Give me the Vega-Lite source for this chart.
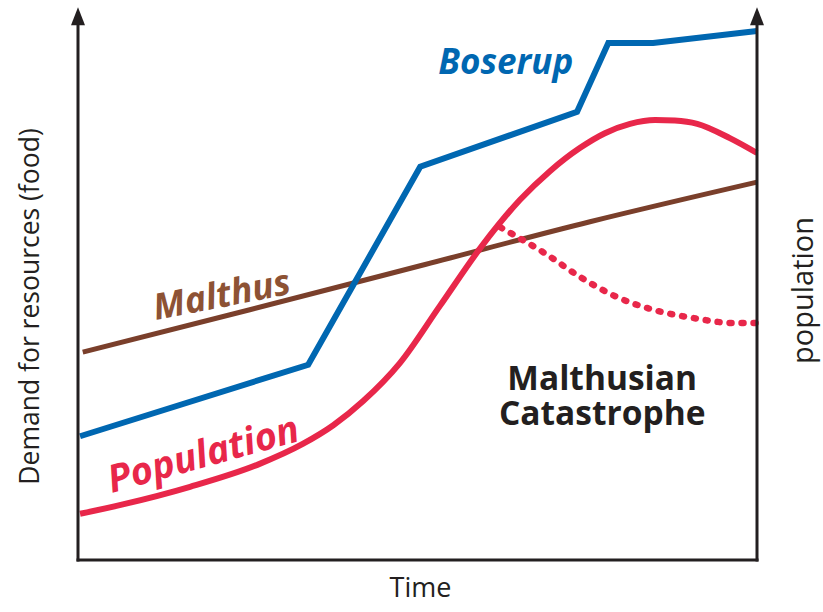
{
  "$schema": "https://vega.github.io/schema/vega-lite/v6.json",
  "width": 679,
  "height": 550,
  "autosize": {"type": "none"},
  "padding": {"left": 78, "top": 10, "right": 66, "bottom": 52},
  "background": "white",
  "config": {"view": {"stroke": null}, "font": "Open Sans"},
  "datasets": {
    "lines": [
      {"series": "Malthus", "x": 0.7, "y": 37.8},
      {"series": "Malthus", "x": 25.3, "y": 45.5},
      {"series": "Malthus", "x": 50.4, "y": 53.5},
      {"series": "Malthus", "x": 75.4, "y": 61.5},
      {"series": "Malthus", "x": 100, "y": 68.7},
      {"series": "Boserup", "x": 0.3, "y": 22.5},
      {"series": "Boserup", "x": 33.9, "y": 35.5},
      {"series": "Boserup", "x": 50.4, "y": 71.5},
      {"series": "Boserup", "x": 73.5, "y": 81.5},
      {"series": "Boserup", "x": 78.1, "y": 94.0},
      {"series": "Boserup", "x": 84.7, "y": 94.0},
      {"series": "Boserup", "x": 100, "y": 96.2},
      {"series": "Population", "x": 0.3, "y": 8.4},
      {"series": "Population", "x": 6.6, "y": 10.1},
      {"series": "Population", "x": 16.5, "y": 13.3},
      {"series": "Population", "x": 26.4, "y": 17.3},
      {"series": "Population", "x": 33.1, "y": 21.1},
      {"series": "Population", "x": 37.6, "y": 24.5},
      {"series": "Population", "x": 42.0, "y": 28.9},
      {"series": "Population", "x": 47.4, "y": 35.8},
      {"series": "Population", "x": 53.3, "y": 46.2},
      {"series": "Population", "x": 59.6, "y": 57.3},
      {"series": "Population", "x": 65.1, "y": 65.5},
      {"series": "Population", "x": 69.5, "y": 70.7},
      {"series": "Population", "x": 73.9, "y": 74.9},
      {"series": "Population", "x": 77.6, "y": 77.6},
      {"series": "Population", "x": 81.3, "y": 79.3},
      {"series": "Population", "x": 85.0, "y": 80.0},
      {"series": "Population", "x": 87.9, "y": 79.9},
      {"series": "Population", "x": 91.2, "y": 79.3},
      {"series": "Population", "x": 96.0, "y": 76.7},
      {"series": "Population", "x": 100, "y": 74.0},
      {"series": "Catastrophe", "x": 62.2, "y": 60.5},
      {"series": "Catastrophe", "x": 69.1, "y": 55.5},
      {"series": "Catastrophe", "x": 73.9, "y": 51.5},
      {"series": "Catastrophe", "x": 79.4, "y": 47.8},
      {"series": "Catastrophe", "x": 84.7, "y": 45.5},
      {"series": "Catastrophe", "x": 90.6, "y": 44.0},
      {"series": "Catastrophe", "x": 96.5, "y": 43.1},
      {"series": "Catastrophe", "x": 100, "y": 43.1}
    ]
  },
  "encoding": {
    "x": {"field": "x", "type": "quantitative", "scale": {"domain": [0, 100], "nice": false, "zero": false},
      "axis": {"title": "Time", "domain": false, "ticks": false, "labels": false, "grid": false,
        "titleFontSize": 27, "titleFontWeight": "normal", "titleColor": "#231F20", "titleFont": "Open Sans",
        "titleX": 342, "titleY": 28, "titleBaseline": "middle", "titleAlign": "center"}}
  },
  "resolve": {"scale": {"y": "independent"}},
  "layer": [
    {
      "data": {"name": "lines"},
      "transform": [{"filter": "datum.series === 'Malthus'"}],
      "mark": {"type": "line", "color": "#7A3F2B", "strokeWidth": 5, "interpolate": "monotone"},
      "encoding": {
        "y": {"field": "y", "type": "quantitative", "scale": {"domain": [0, 100], "nice": false, "zero": false},
          "axis": {"title": "Demand for resources (food)", "domain": false, "ticks": false, "labels": false, "grid": false,
            "titleFontSize": 26.5, "titleFontWeight": "normal", "titleColor": "#231F20", "titleFont": "Open Sans",
            "titleX": -48, "titleY": 296, "titleAngle": 270, "titleBaseline": "middle", "titleAlign": "center"}},
        "order": {"field": "x", "type": "quantitative"}
      }
    },
    {
      "data": {"name": "lines"},
      "transform": [{"filter": "datum.series === 'Boserup'"}],
      "mark": {"type": "line", "color": "#0067B1", "strokeWidth": 6, "interpolate": "linear", "strokeJoin": "miter"},
      "encoding": {
        "y": {"field": "y", "type": "quantitative", "scale": {"domain": [0, 100], "nice": false, "zero": false},
          "axis": {"title": "population", "orient": "right", "domain": false, "ticks": false, "labels": false, "grid": false,
            "titleFontSize": 29, "titleFontWeight": "normal", "titleColor": "#231F20", "titleFont": "Open Sans",
            "titleX": 46, "titleY": 280, "titleAngle": 270, "titleBaseline": "middle", "titleAlign": "center"}},
        "order": {"field": "x", "type": "quantitative"}
      }
    },
    {
      "data": {"name": "lines"},
      "transform": [{"filter": "datum.series === 'Population'"}],
      "mark": {"type": "line", "color": "#E8274A", "strokeWidth": 6, "interpolate": "monotone"},
      "encoding": {
        "y": {"field": "y", "type": "quantitative", "scale": {"domain": [0, 100], "nice": false, "zero": false}, "axis": null},
        "order": {"field": "x", "type": "quantitative"}
      }
    },
    {
      "data": {"name": "lines"},
      "transform": [{"filter": "datum.series === 'Catastrophe'"}],
      "mark": {"type": "line", "color": "#E8274A", "strokeWidth": 6.5, "interpolate": "monotone", "strokeDash": [2, 10], "strokeCap": "round"},
      "encoding": {
        "y": {"field": "y", "type": "quantitative", "scale": {"domain": [0, 100], "nice": false, "zero": false}, "axis": null},
        "order": {"field": "x", "type": "quantitative"}
      }
    },
    {
      "data": {"values": [
        {"axis": "left", "x": 0, "x2": 0, "y": 0, "y2": 98.2},
        {"axis": "right", "x": 100, "x2": 100, "y": 0, "y2": 98.2},
        {"axis": "bottom", "x": 0, "x2": 100, "y": 0, "y2": 0}
      ]},
      "mark": {"type": "rule", "color": "#231F20", "strokeWidth": 3, "strokeCap": "square"},
      "encoding": {
        "x2": {"field": "x2"},
        "y": {"field": "y", "type": "quantitative", "scale": {"domain": [0, 100], "nice": false, "zero": false}, "axis": null},
        "y2": {"field": "y2"}
      }
    },
    {
      "data": {"values": [
        {"axis": "left", "x": 0, "y": 98.7},
        {"axis": "right", "x": 100, "y": 98.7}
      ]},
      "mark": {"type": "point", "shape": "M0,-1L-0.7,0.8L0.7,0.8Z", "size": 400, "filled": true, "color": "#231F20", "opacity": 1, "strokeWidth": 0},
      "encoding": {
        "y": {"field": "y", "type": "quantitative", "scale": {"domain": [0, 100], "nice": false, "zero": false}, "axis": null}
      }
    },
    {
      "data": {"values": [{"label": "Boserup", "x": 63.0, "y": 90.4}]},
      "mark": {"type": "text", "color": "#0067B1", "font": "Open Sans", "fontSize": 35, "fontWeight": "bold", "fontStyle": "italic", "align": "center", "baseline": "middle"},
      "encoding": {
        "y": {"field": "y", "type": "quantitative", "scale": {"domain": [0, 100], "nice": false, "zero": false}, "axis": null},
        "text": {"field": "label"}
      }
    },
    {
      "data": {"values": [{"label": "Malthus", "x": 21.2, "y": 48.0}]},
      "mark": {"type": "text", "color": "#8D5234", "font": "Open Sans", "fontSize": 36, "fontWeight": "bold", "fontStyle": "italic", "align": "center", "baseline": "middle", "angle": 349},
      "encoding": {
        "y": {"field": "y", "type": "quantitative", "scale": {"domain": [0, 100], "nice": false, "zero": false}, "axis": null},
        "text": {"field": "label"}
      }
    },
    {
      "data": {"values": [{"label": "Population", "x": 18.5, "y": 18.9}]},
      "mark": {"type": "text", "color": "#E8274A", "font": "Open Sans", "fontSize": 38, "fontWeight": "bold", "fontStyle": "italic", "align": "center", "baseline": "middle", "angle": 344.5},
      "encoding": {
        "y": {"field": "y", "type": "quantitative", "scale": {"domain": [0, 100], "nice": false, "zero": false}, "axis": null},
        "text": {"field": "label"}
      }
    },
    {
      "data": {"values": [{"label": "Malthusian\nCatastrophe", "x": 77.2, "y": 32.7}]},
      "mark": {"type": "text", "color": "#231F20", "font": "Open Sans", "fontSize": 33.5, "fontWeight": "bold", "align": "center", "baseline": "middle", "lineBreak": "\n", "lineHeight": 35},
      "encoding": {
        "y": {"field": "y", "type": "quantitative", "scale": {"domain": [0, 100], "nice": false, "zero": false}, "axis": null},
        "text": {"field": "label"}
      }
    }
  ]
}
